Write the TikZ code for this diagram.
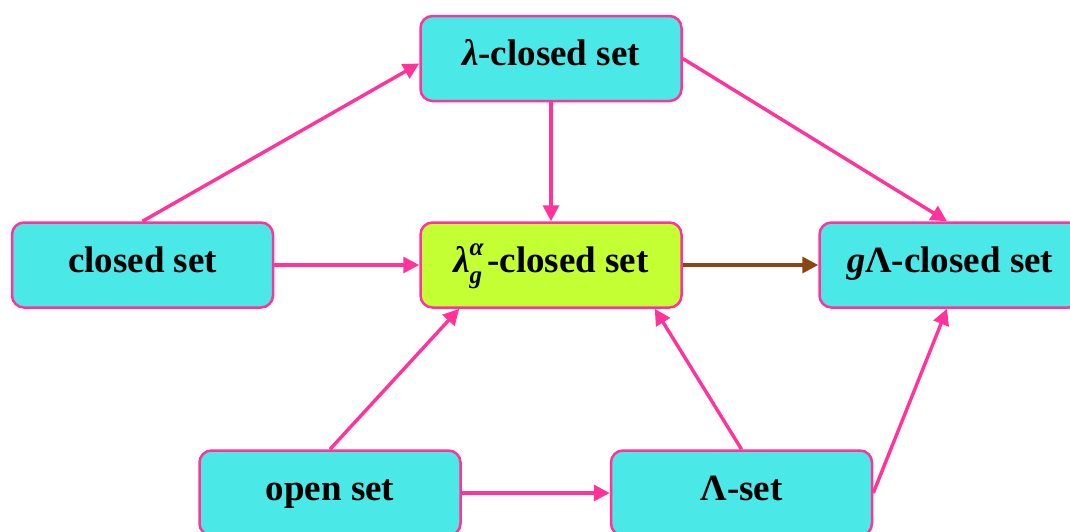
\documentclass[tikz,border=0pt]{standalone}
\usepackage{fontspec}
\setmainfont{Liberation Serif}
\usetikzlibrary{arrows.meta,calc}
\definecolor{boxcyan}{RGB}{75,232,232}
\definecolor{boxlime}{RGB}{196,255,51}
\definecolor{edgepink}{RGB}{255,51,153}
\definecolor{arrowbrown}{RGB}{139,69,19}
\newcommand\lamga{\textit{λ}\makebox[0pt][l]{\raisebox{0.45em}{\fontsize{25}{25}\selectfont\textit{α}}}\raisebox{-0.3em}{\fontsize{25}{25}\selectfont\textit{g}}\hspace{0.14em}}
\begin{document}
\begin{tikzpicture}[x=1pt,y=-1pt,
  setbox/.style={draw=edgepink, line width=2.5pt, rounded corners=12pt,
    fill=boxcyan, minimum width=261pt, minimum height=85pt,
    font=\fontsize{37}{40}\selectfont\bfseries, inner sep=0pt,
    text height=25pt, text depth=11pt},
  link/.style={draw=edgepink, line width=3.4pt,
    -{Triangle[length=16pt,width=16pt]}},
  font=\bfseries]
  \useasboundingbox (0,0) rectangle (1070,531);

  \node[setbox] (lam)    at (551,58.5)  {\textit{λ}-closed set};
  \node[setbox] (closed) at (142.5,265) {closed set};
  \node[setbox, fill=boxlime] (lamg) at (551,265) {\lamga-closed set};
  \node[setbox] (gl)     at (950,265)   {\textit{g}Λ-closed set};
  \node[setbox] (open)   at (330,493)   {open set};
  \node[setbox] (lset)   at (741.5,493) {Λ-set};

  \draw[link] (closed.north) -- ([yshift=-5pt]lam.west);
  \draw[link] (lam.south) -- (lamg.north);
  \draw[link] (lam.east) -- ([xshift=-3pt]gl.north);
  \draw[link] (closed.east) -- (lamg.west);
  \draw[link, draw=arrowbrown] (lamg.east) -- (gl.west);
  \draw[link] (open.north) -- ([xshift=40pt]lamg.south west);
  \draw[link] (lset.north) -- ([xshift=-28pt]lamg.south east);
  \draw[link] (lset.east) -- ([xshift=-3pt]gl.south);
  \draw[link] (open.east) -- (lset.west);
\end{tikzpicture}
\end{document}
